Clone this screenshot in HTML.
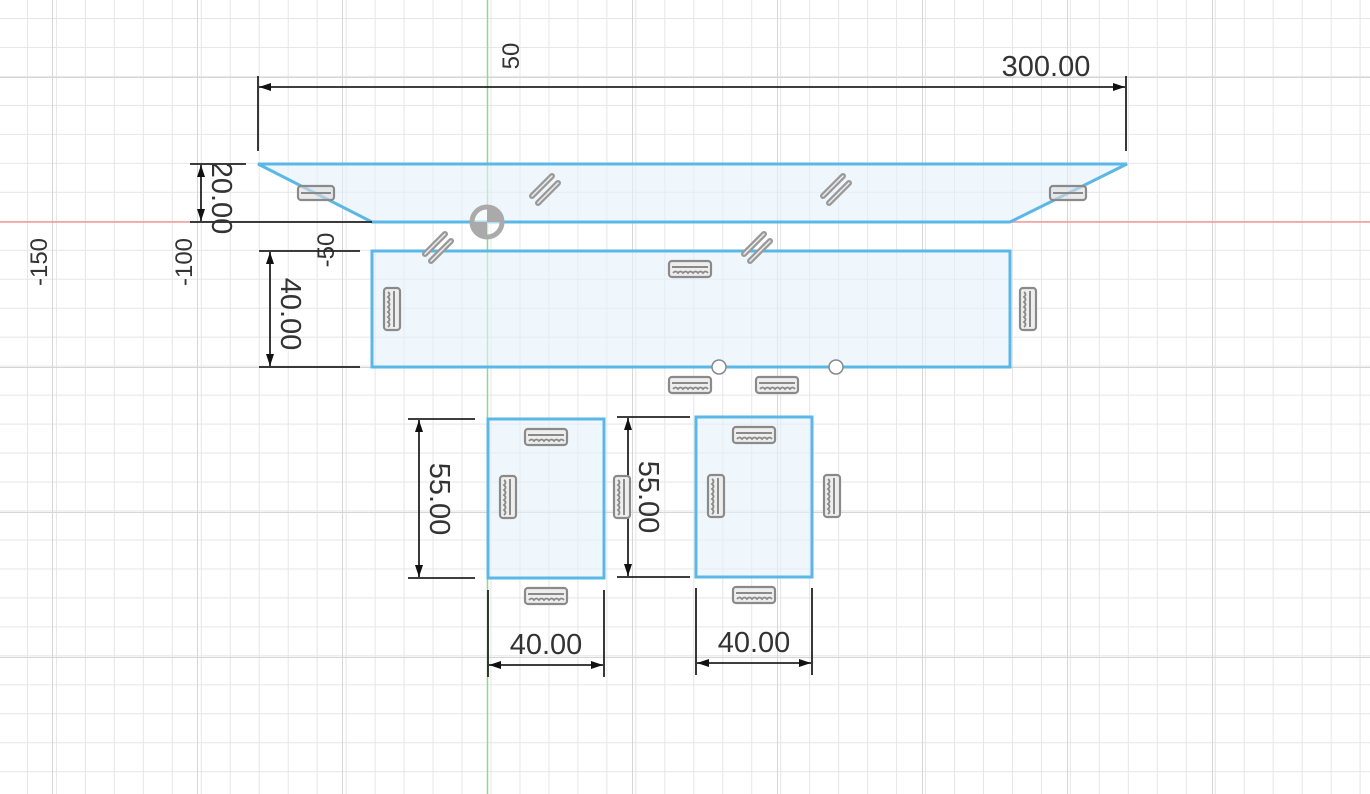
<!DOCTYPE html>
<html><head><meta charset="utf-8"><style>
html,body{margin:0;padding:0;background:#fff;}
svg{display:block;}
text{font-family:"Liberation Sans",sans-serif;fill:#333;}
</style></head><body>
<svg width="1370" height="794" viewBox="0 0 1370 794" xmlns="http://www.w3.org/2000/svg">
<defs>
<g id="h">
<rect x="-21" y="-8" width="42" height="16" rx="3" fill="#eee" stroke="#8a8a8a" stroke-width="2.2"/>
<line x1="-18" y1="-2" x2="18" y2="-2" stroke="#8a8a8a" stroke-width="2"/>
<path d="M-17 4 q2.5 -3 5 0 q2.5 -3 5 0 q2.5 -3 5 0 q2.5 -3 5 0 q2.5 -3 5 0 q2.5 -3 5 0 q2.5 -3 5 0" fill="none" stroke="#8a8a8a" stroke-width="1.8"/>
</g>
<g id="eq">
<rect x="-18" y="-7" width="36" height="14" rx="3" fill="#ddd" fill-opacity="0.6" stroke="#8a8a8a" stroke-width="2.2"/>
<line x1="-15" y1="0" x2="15" y2="0" stroke="#8a8a8a" stroke-width="2"/>
</g>
<g id="par">
<line x1="-13" y1="6" x2="7" y2="-14" stroke="#999" stroke-width="6" stroke-linecap="round"/>
<line x1="-13" y1="6" x2="7" y2="-14" stroke="#eee" stroke-width="1.5" stroke-linecap="round"/>
<line x1="-7" y1="13" x2="13" y2="-7" stroke="#999" stroke-width="6" stroke-linecap="round"/>
<line x1="-7" y1="13" x2="13" y2="-7" stroke="#eee" stroke-width="1.5" stroke-linecap="round"/>
</g>
<pattern id="grid" x="-2" y="18" width="28.97" height="28.97" patternUnits="userSpaceOnUse">
<path d="M0.5 0 V28.97 M0 0.5 H28.97" stroke="#e6e6e6" stroke-width="1" fill="none"/>
</pattern>
<marker id="a" markerWidth="12" markerHeight="8" refX="12" refY="4" orient="auto" markerUnits="userSpaceOnUse">
<path d="M0 0 L12 4 L0 8 Z" fill="#111"/>
</marker>
<marker id="as" markerWidth="12" markerHeight="8" refX="0" refY="4" orient="auto" markerUnits="userSpaceOnUse">
<path d="M12 0 L0 4 L12 8 Z" fill="#111"/>
</marker>
</defs>
<rect width="1370" height="794" fill="#fff"/>
<rect width="1370" height="794" fill="url(#grid)"/>
<g stroke="#d6d6d6" stroke-width="1">
<line x1="52.5" y1="0" x2="52.5" y2="794"/><line x1="197.5" y1="0" x2="197.5" y2="794"/>
<line x1="342.5" y1="0" x2="342.5" y2="794"/><line x1="632.5" y1="0" x2="632.5" y2="794"/>
<line x1="777.5" y1="0" x2="777.5" y2="794"/><line x1="922.5" y1="0" x2="922.5" y2="794"/>
<line x1="1067.5" y1="0" x2="1067.5" y2="794"/><line x1="1212.5" y1="0" x2="1212.5" y2="794"/>
<line x1="0" y1="77.5" x2="1370" y2="77.5"/><line x1="0" y1="367.5" x2="1370" y2="367.5"/>
<line x1="0" y1="512.5" x2="1370" y2="512.5"/><line x1="0" y1="657.5" x2="1370" y2="657.5"/>
</g>
<line x1="0" y1="222" x2="1370" y2="222" stroke="#e88" stroke-width="1.2"/>
<line x1="487.5" y1="0" x2="487.5" y2="794" stroke="#8d8" stroke-width="1.5"/>
<text transform="translate(47,262) rotate(-90)" font-size="24" fill="#666" text-anchor="middle">-150</text>
<text transform="translate(192,262) rotate(-90)" font-size="24" fill="#666" text-anchor="middle">-100</text>
<text transform="translate(334,250) rotate(-90)" font-size="24" fill="#666" text-anchor="middle">-50</text>
<text transform="translate(519,56) rotate(-90)" font-size="24" fill="#666" text-anchor="middle">50</text>
<g fill="#e4f1fa" fill-opacity="0.6" stroke="#5bb8e6" stroke-width="3">
<polygon points="258,164 1127,164 1010,222 372,222"/>
<rect x="372" y="251" width="638" height="116"/>
<rect x="488" y="419" width="116" height="159"/>
<rect x="696" y="417" width="116" height="160"/>
</g>
<g stroke="#222" stroke-width="1.8">
<line x1="258" y1="76" x2="258" y2="151"/><line x1="1126" y1="76" x2="1126" y2="151"/>
<line x1="259" y1="87" x2="1125" y2="87" marker-end="url(#a)" marker-start="url(#as)"/>
<line x1="190" y1="164" x2="246" y2="164"/><line x1="190" y1="222" x2="372" y2="222"/>
<line x1="201" y1="165" x2="201" y2="221" marker-end="url(#a)" marker-start="url(#as)"/>
<line x1="259" y1="251" x2="360" y2="251"/><line x1="259" y1="367" x2="360" y2="367"/>
<line x1="270" y1="252" x2="270" y2="366" marker-end="url(#a)" marker-start="url(#as)"/>
<line x1="408" y1="419" x2="475" y2="419"/><line x1="408" y1="578" x2="475" y2="578"/>
<line x1="419" y1="420" x2="419" y2="577" marker-end="url(#a)" marker-start="url(#as)"/>
<line x1="617" y1="417" x2="690" y2="417"/><line x1="617" y1="577" x2="690" y2="577"/>
<line x1="628" y1="418" x2="628" y2="576" marker-end="url(#a)" marker-start="url(#as)"/>
<line x1="488" y1="590" x2="488" y2="677"/><line x1="604" y1="590" x2="604" y2="677"/>
<line x1="489" y1="665" x2="603" y2="665" marker-end="url(#a)" marker-start="url(#as)"/>
<line x1="696" y1="588" x2="696" y2="675"/><line x1="812" y1="588" x2="812" y2="675"/>
<line x1="697" y1="663" x2="811" y2="663" marker-end="url(#a)" marker-start="url(#as)"/>
</g>
<g font-size="29">
<text x="1046" y="76" text-anchor="middle">300.00</text>
<text transform="translate(212,198) rotate(90)" text-anchor="middle">20.00</text>
<text transform="translate(281,314) rotate(90)" text-anchor="middle">40.00</text>
<text transform="translate(430,499) rotate(90)" text-anchor="middle">55.00</text>
<text transform="translate(639,497) rotate(90)" text-anchor="middle">55.00</text>
<text x="546" y="654" text-anchor="middle">40.00</text>
<text x="754" y="652" text-anchor="middle">40.00</text>
</g>
<use href="#eq" x="316" y="193"/><use href="#eq" x="1068" y="193"/>
<use href="#par" x="545" y="190"/><use href="#par" x="836" y="190"/>
<use href="#par" x="438" y="248"/><use href="#par" x="757" y="248"/>
<use href="#h" x="690" y="269"/><use href="#h" x="690" y="385"/><use href="#h" x="777" y="385"/>
<use href="#h" x="546" y="437"/><use href="#h" x="546" y="596"/>
<use href="#h" x="754" y="435"/><use href="#h" x="754" y="595"/>
<use href="#h" transform="translate(392,309) rotate(90)"/>
<use href="#h" transform="translate(1028,309) rotate(90)"/>
<use href="#h" transform="translate(508,497) rotate(90)"/>
<use href="#h" transform="translate(622,497) rotate(90)"/>
<use href="#h" transform="translate(716,496) rotate(90)"/>
<use href="#h" transform="translate(832,496) rotate(90)"/>
<circle cx="487" cy="222" r="15" fill="#fff" fill-opacity="0.5" stroke="#aaa" stroke-width="5"/>
<path d="M487 222 L487 207 A15 15 0 0 1 502 222 Z" fill="#aaa"/>
<path d="M487 222 L487 237 A15 15 0 0 1 472 222 Z" fill="#aaa"/>
<circle cx="719" cy="367" r="7" fill="#fff" stroke="#888" stroke-width="1.5"/>
<circle cx="836" cy="367" r="7" fill="#fff" stroke="#888" stroke-width="1.5"/>
</svg>
</body></html>
